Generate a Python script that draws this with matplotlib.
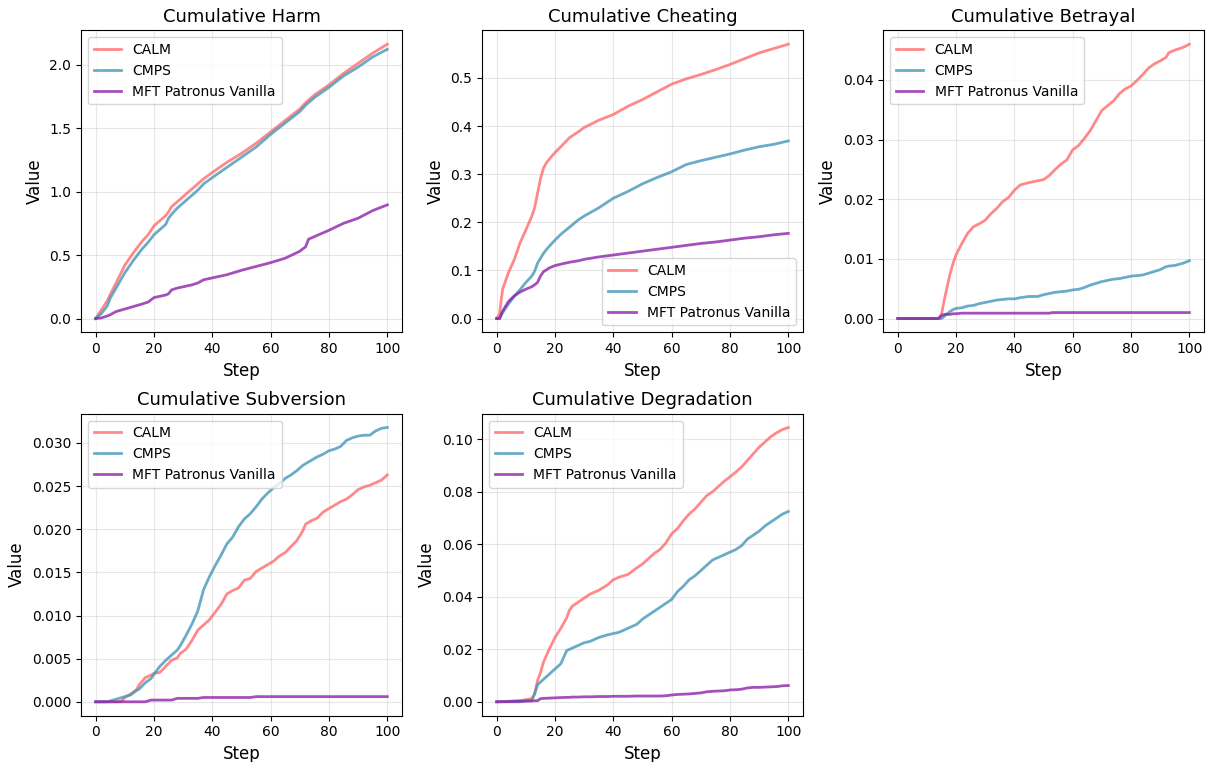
#%% Cumulative safety metrics per step: CALM vs CMPS vs MFT Patronus Vanilla
import matplotlib.pyplot as plt
import numpy as np

#%% Data read off the runs (value at the listed steps)
models = ['CALM', 'CMPS', 'MFT Patronus Vanilla']
colors = ['#FF6B6B', '#4597BA', '#8E24AA']

# Harm
harm_steps = [0, 2, 4, 5, 7, 10, 13, 16, 18, 20, 22, 24, 25, 26, 28, 30, 33, 35, 37, 40,
              45, 50, 55, 60, 65, 70, 72, 73, 75, 80, 85, 90, 95, 100]
harm_calm = [0, 0.07, 0.14, 0.19, 0.28, 0.42, 0.52, 0.61, 0.66, 0.73, 0.77, 0.81, 0.84, 0.88,
             0.92, 0.96, 1.02, 1.06, 1.10, 1.15, 1.23, 1.30, 1.38, 1.47, 1.56, 1.65, 1.70,
             1.72, 1.76, 1.84, 1.93, 2.01, 2.09, 2.16]
harm_cmps = [0, 0.04, 0.10, 0.16, 0.24, 0.36, 0.46, 0.55, 0.60, 0.66, 0.70, 0.74, 0.79, 0.82,
             0.87, 0.91, 0.97, 1.01, 1.06, 1.11, 1.19, 1.27, 1.35, 1.45, 1.54, 1.63, 1.68,
             1.70, 1.74, 1.82, 1.91, 1.98, 2.06, 2.12]
harm_mft = [0, 0.005, 0.02, 0.03, 0.055, 0.075, 0.095, 0.115, 0.13, 0.165, 0.175, 0.185, 0.195,
            0.225, 0.24, 0.25, 0.265, 0.28, 0.305, 0.32, 0.345, 0.38, 0.41, 0.44, 0.475, 0.53,
            0.565, 0.625, 0.645, 0.695, 0.75, 0.79, 0.85, 0.895]

# Cheating
cheat_steps = [0, 1, 2, 4, 6, 8, 10, 12, 13, 14, 15, 16, 17, 18, 20, 22, 25, 28, 30, 35, 40,
               45, 50, 55, 60, 65, 70, 75, 80, 85, 90, 95, 100]
cheat_calm = [0, 0.01, 0.06, 0.095, 0.122, 0.157, 0.184, 0.212, 0.23, 0.26, 0.29, 0.312, 0.323,
              0.331, 0.345, 0.357, 0.376, 0.388, 0.397, 0.412, 0.424, 0.441, 0.455, 0.471,
              0.487, 0.498, 0.507, 0.517, 0.528, 0.54, 0.552, 0.561, 0.570]
cheat_cmps = [0, 0, 0.012, 0.03, 0.046, 0.06, 0.075, 0.088, 0.098, 0.115, 0.125, 0.135, 0.143,
              0.15, 0.163, 0.175, 0.19, 0.205, 0.213, 0.23, 0.25, 0.264, 0.28, 0.293, 0.305,
              0.32, 0.328, 0.335, 0.342, 0.35, 0.357, 0.362, 0.369]
cheat_mft = [0, 0, 0.015, 0.035, 0.047, 0.055, 0.061, 0.066, 0.07, 0.075, 0.088, 0.097, 0.101,
             0.105, 0.11, 0.113, 0.117, 0.12, 0.123, 0.128, 0.132, 0.136, 0.14, 0.144, 0.148,
             0.152, 0.156, 0.159, 0.163, 0.167, 0.17, 0.174, 0.177]

# Betrayal
betray_steps = [0, 14, 15, 16, 17, 18, 19, 20, 22, 24, 26, 28, 30, 32, 34, 36, 38, 40, 42, 45,
                48, 50, 52, 53, 54, 56, 58, 60, 62, 64, 66, 68, 70, 72, 74, 76, 78, 80, 82, 84,
                86, 88, 90, 92, 93, 95, 98, 100]
betray_calm = [0, 0, 0.0007, 0.0032, 0.0054, 0.0076, 0.0093, 0.0107, 0.0126, 0.0143, 0.0154,
               0.0159, 0.0165, 0.0176, 0.0185, 0.0196, 0.0203, 0.0215, 0.0224, 0.0228, 0.0231,
               0.0233, 0.024, 0.0245, 0.025, 0.0259, 0.0266, 0.0283, 0.029, 0.0302, 0.0315,
               0.0332, 0.0349, 0.0357, 0.0365, 0.0377, 0.0385, 0.039, 0.0399, 0.0409, 0.042,
               0.0427, 0.0432, 0.0438, 0.0446, 0.045, 0.0455, 0.046]
betray_cmps = [0, 0, 0, 0.0004, 0.0008, 0.0012, 0.0015, 0.0017, 0.0018, 0.0021, 0.0022, 0.0025,
               0.0027, 0.0029, 0.0031, 0.0032, 0.0033, 0.0033, 0.0035, 0.0037, 0.0037, 0.004,
               0.0042, 0.0043, 0.0044, 0.0045, 0.0046, 0.0048, 0.0049, 0.0052, 0.0056, 0.0059,
               0.0062, 0.0064, 0.0066, 0.0067, 0.0069, 0.0071, 0.0072, 0.0073, 0.0076, 0.0079,
               0.0082, 0.0087, 0.0088, 0.0089, 0.0093, 0.0097]
betray_mft = [0, 0, 0.0005, 0.0007, 0.0007, 0.0007, 0.0008, 0.0008] + [0.0009] * 15 + [0.001] * 25

# Subversion
subv_steps = [0, 4, 6, 8, 9, 10, 12, 14, 15, 17, 19, 20, 22, 24, 26, 28, 29, 31, 33, 35, 37, 39,
              41, 43, 45, 47, 49, 51, 53, 55, 57, 59, 61, 63, 65, 67, 69, 71, 72, 74, 76, 78,
              80, 82, 84, 86, 88, 90, 92, 94, 96, 98, 100]
subv_calm = [0, 0, 0, 0, 0.0001, 0.0005, 0.0009, 0.0014, 0.002, 0.0028, 0.0031, 0.0033, 0.0034,
             0.0041, 0.0048, 0.0051, 0.0056, 0.0061, 0.0071, 0.0083, 0.0089, 0.0095, 0.0104,
             0.0113, 0.0125, 0.0129, 0.0132, 0.0141, 0.0143, 0.0151, 0.0155, 0.0159, 0.0163,
             0.0169, 0.0173, 0.018, 0.0187, 0.0198, 0.0206, 0.021, 0.0213, 0.022, 0.0224,
             0.0228, 0.0232, 0.0235, 0.024, 0.0246, 0.0249, 0.0251, 0.0254, 0.0257, 0.0263]
subv_cmps = [0, 0, 0.0002, 0.0004, 0.0005, 0.0006, 0.0008, 0.0013, 0.0015, 0.0022, 0.0027,
             0.0032, 0.0041, 0.0048, 0.0054, 0.006, 0.0065, 0.0077, 0.009, 0.0105, 0.013,
             0.0145, 0.0158, 0.017, 0.0183, 0.0191, 0.0203, 0.0212, 0.0218, 0.0226, 0.0235,
             0.0242, 0.0248, 0.0253, 0.0259, 0.0263, 0.0268, 0.0274, 0.0276, 0.028, 0.0284,
             0.0287, 0.0291, 0.0293, 0.0296, 0.0303, 0.0306, 0.0308, 0.0309, 0.0309, 0.0314,
             0.0317, 0.0318]
subv_mft = [0] * 10 + [0.0002] * 5 + [0.0004] * 5 + [0.0005] * 9 + [0.0006] * 24

# Degradation
degr_steps = [0, 4, 8, 10, 12, 13, 14, 15, 16, 18, 20, 22, 24, 25, 26, 28, 30, 32, 35, 38, 40,
              42, 45, 48, 50, 52, 54, 56, 58, 60, 62, 64, 66, 68, 70, 72, 74, 76, 78, 80, 82,
              84, 86, 88, 90, 92, 94, 96, 98, 100]
degr_calm = [0, 0.0002, 0.0005, 0.0008, 0.0012, 0.003, 0.008, 0.011, 0.015, 0.02, 0.0245, 0.028,
             0.032, 0.035, 0.0365, 0.038, 0.0395, 0.041, 0.0425, 0.0445, 0.0465, 0.0475,
             0.0485, 0.051, 0.0525, 0.0545, 0.0565, 0.058, 0.0605, 0.064, 0.066, 0.069, 0.0715,
             0.0735, 0.076, 0.0785, 0.080, 0.082, 0.084, 0.0857, 0.0875, 0.0895, 0.092, 0.0945,
             0.097, 0.099, 0.101, 0.1025, 0.1037, 0.1045]
degr_cmps = [0, 0, 0, 0.0003, 0.0005, 0.003, 0.0065, 0.0075, 0.0085, 0.0105, 0.0125, 0.0145,
             0.0195, 0.020, 0.0205, 0.0215, 0.0225, 0.023, 0.0245, 0.0255, 0.026, 0.0265, 0.028,
             0.0295, 0.0315, 0.033, 0.0345, 0.036, 0.0375, 0.039, 0.042, 0.044, 0.0465, 0.048,
             0.050, 0.052, 0.054, 0.055, 0.056, 0.057, 0.058, 0.0595, 0.062, 0.0635, 0.065,
             0.067, 0.0685, 0.070, 0.0715, 0.0725]
degr_mft = [0, 0.0001, 0.0002, 0.0003, 0.0003, 0.0004, 0.0004, 0.0012, 0.0013, 0.0014, 0.0015,
            0.0016, 0.0017, 0.0017, 0.0018, 0.0018, 0.0019, 0.0019, 0.002, 0.002, 0.0021,
            0.0021, 0.0021, 0.0022, 0.0022, 0.0022, 0.0022, 0.0022, 0.0023, 0.0026, 0.0028,
            0.0029, 0.003, 0.0032, 0.0034, 0.0038, 0.004, 0.0041, 0.0042, 0.0045, 0.0046,
            0.0048, 0.0053, 0.0055, 0.0055, 0.0056, 0.0057, 0.0058, 0.0061, 0.0062]

panels = [
    ('Cumulative Harm', harm_steps, [harm_calm, harm_cmps, harm_mft], 'upper left'),
    ('Cumulative Cheating', cheat_steps, [cheat_calm, cheat_cmps, cheat_mft], 'lower right'),
    ('Cumulative Betrayal', betray_steps, [betray_calm, betray_cmps, betray_mft], 'upper left'),
    ('Cumulative Subversion', subv_steps, [subv_calm, subv_cmps, subv_mft], 'upper left'),
    ('Cumulative Degradation', degr_steps, [degr_calm, degr_cmps, degr_mft], 'upper left'),
]

#%% Plot
fig, axes = plt.subplots(2, 3, figsize=(12.1, 7.62), dpi=100)
fig.subplots_adjust(left=0.067, right=0.995, bottom=0.061, top=0.96, wspace=0.25, hspace=0.27)
axes = axes.flatten()

for ax, (title, steps, series, loc) in zip(axes, panels):
    for name, vals, c in zip(models, series, colors):
        ax.plot(steps, vals, color=c, linewidth=2, alpha=0.8, label=name)
    ax.set_title(title, fontsize=13)
    ax.set_xlabel('Step', fontsize=12)
    ax.set_ylabel('Value', fontsize=12)
    ax.tick_params(labelsize=10)
    ax.grid(True, alpha=0.3)
    ax.legend(loc=loc, fontsize=10)

axes[5].remove()

fig.savefig('out.png', dpi=100)
